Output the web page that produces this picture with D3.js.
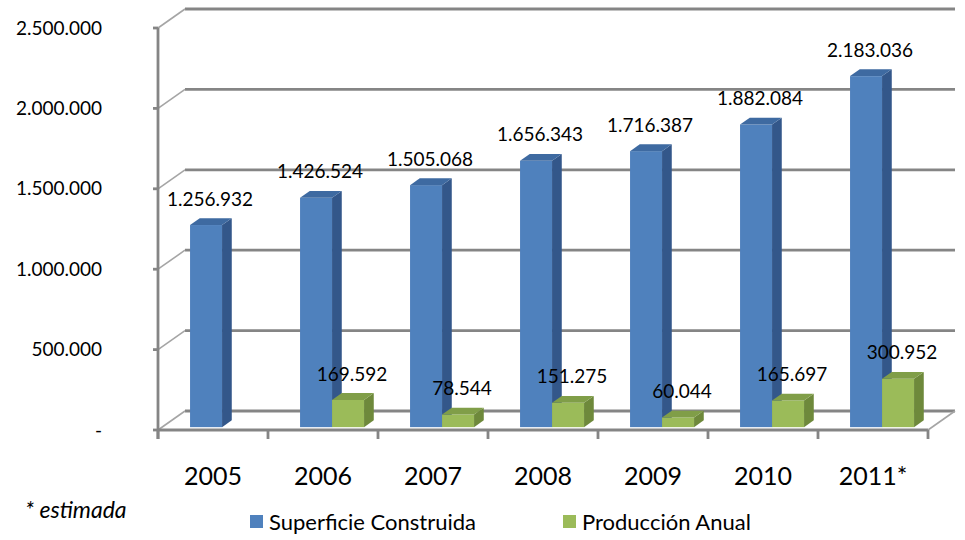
<!DOCTYPE html>
<html>
<head>
<meta charset="utf-8">
<script src="https://cdn.jsdelivr.net/npm/d3@7"></script>
<style>
  body { margin: 0; background: #fff; }
  svg { display: block; }
</style>
</head>
<body>
<div id="chart"></div>
<script>
const years = ['2005', '2006', '2007', '2008', '2009', '2010', '2011*'];
const superficie = [1256932, 1426524, 1505068, 1656343, 1716387, 1882084, 2183036];
const produccion = [null, 169592, 78544, 151275, 60044, 165697, 300952];
const seriesNames = ['Superficie Construida', 'Producción Anual'];
const yTicks = [0, 500000, 1000000, 1500000, 2000000, 2500000];

const width = 965;
const height = 540;
const font = 'Lato, "DejaVu Sans", sans-serif';

// front plane of the 3d box
const left = 158, right = 928, floorY = 430, topY = 28;
// depth vector of the floor
const depthX = 27, depthY = -19;
// bars sit at this depth slice
const barDepth0 = 0.15, barDepth = 0.36;

const colors = [
    { front: '#4F81BD', side: '#33578A', top: '#3E6AA1' },
    { front: '#9BBB59', side: '#6E893B', top: '#809E48' }
];

const fmt = v => v === 0 ? '-' : d3.format(',')(v).replace(/,/g, '.');

const svg = d3.select('#chart').append('svg')
    .attr('width', width)
    .attr('height', height);

const yScale = d3.scaleLinear()
    .domain([0, 2500000])
    .range([floorY, topY]);

const xScale = d3.scaleBand()
    .domain(years)
    .range([left, right]);

const inner = d3.scaleBand()
    .domain(seriesNames)
    .range([28, 92]);

const grid = svg.append('g');
const gridColor = '#858585';

// back wall grid lines + oblique side wall lines
yTicks.forEach(t => {
    const y = yScale(t);
    grid.append('line')
        .attr('x1', left + depthX).attr('x2', right + depthX)
        .attr('y1', y + depthY).attr('y2', y + depthY)
        .attr('stroke', gridColor).attr('stroke-width', 2.8);
    grid.append('line')
        .attr('x1', left).attr('x2', left + depthX)
        .attr('y1', y).attr('y2', y + depthY)
        .attr('stroke', '#a5a5a5').attr('stroke-width', 1.6);
    // tick on the front axis
    grid.append('line')
        .attr('x1', left - 5).attr('x2', left)
        .attr('y1', y).attr('y2', y)
        .attr('stroke', gridColor).attr('stroke-width', 2.8);
});

// front vertical axis
grid.append('line')
    .attr('x1', left).attr('x2', left)
    .attr('y1', topY).attr('y2', floorY + 9)
    .attr('stroke', gridColor).attr('stroke-width', 2.8);

// floor front edge + right oblique
grid.append('line')
    .attr('x1', left).attr('x2', right)
    .attr('y1', floorY).attr('y2', floorY)
    .attr('stroke', gridColor).attr('stroke-width', 2.8);
grid.append('line')
    .attr('x1', right).attr('x2', right + depthX)
    .attr('y1', floorY).attr('y2', floorY + depthY)
    .attr('stroke', '#a5a5a5').attr('stroke-width', 1.6);

// category ticks
years.concat(['end']).forEach((yr, i) => {
    const x = left + i * xScale.bandwidth();
    grid.append('line')
        .attr('x1', x).attr('x2', x)
        .attr('y1', floorY).attr('y2', floorY + 9)
        .attr('stroke', gridColor).attr('stroke-width', 2.8);
});

// y labels
svg.append('g').selectAll('text')
    .data(yTicks)
    .join('text')
    .attr('x', 102)
    .attr('y', d => yScale(d))
    .attr('dy', '0.35em')
    .attr('text-anchor', 'end')
    .style('font', `19px ${font}`)
    .attr('fill', '#000')
    .text(fmt);

// x labels
svg.append('g').selectAll('text')
    .data(years)
    .join('text')
    .attr('x', d => xScale(d) + xScale.bandwidth() / 2)
    .attr('y', 476)
    .attr('dy', '0.35em')
    .attr('text-anchor', 'middle')
    .style('font', `25px ${font}`)
    .attr('fill', '#000')
    .text(d => d);

// bars
const bars = [];
[superficie, produccion].forEach((vals, s) => {
    vals.forEach((v, i) => {
        if (v == null) return;
        bars.push({ s: s, year: years[i], value: v });
    });
});

const base = floorY + barDepth0 * depthY;
const ddx = barDepth * depthX, ddy = barDepth * depthY;
const barW = inner.bandwidth();
const hScale = d3.scaleLinear().domain([0, 2500000]).range([0, floorY - topY]);

const barG = svg.append('g');
bars.forEach(b => {
    const x0 = xScale(b.year) + barDepth0 * depthX + inner(seriesNames[b.s]);
    const x1 = x0 + barW;
    const top = base - hScale(b.value);
    const c = colors[b.s];
    barG.append('rect')
        .attr('x', x0).attr('y', top)
        .attr('width', barW).attr('height', base - top)
        .attr('fill', c.front);
    barG.append('polygon')
        .attr('points', [[x1, base], [x1, top], [x1 + ddx, top + ddy], [x1 + ddx, base + ddy]].join(' '))
        .attr('fill', c.side);
    barG.append('polygon')
        .attr('points', [[x0, top], [x1, top], [x1 + ddx, top + ddy], [x0 + ddx, top + ddy]].join(' '))
        .attr('fill', c.top);
    barG.append('text')
        .attr('x', (x0 + x1) / 2 + 4)
        .attr('y', top - 26)
        .attr('dy', '0.35em')
        .attr('text-anchor', 'middle')
        .style('font', `19px ${font}`)
        .attr('fill', '#000')
        .text(fmt(b.value));
});

// note
svg.append('text')
    .attr('x', 25)
    .attr('y', 510)
    .attr('dy', '0.35em')
    .style('font', `italic 23px ${font}`)
    .attr('fill', '#000')
    .text('* estimada');

// legend
const legendX = [250, 563];
const legend = svg.append('g').selectAll('g')
    .data(seriesNames)
    .join('g')
    .attr('transform', (d, i) => `translate(${legendX[i]}, 522)`);
legend.append('rect')
    .attr('x', 0).attr('y', -7)
    .attr('width', 13).attr('height', 13)
    .attr('fill', (d, i) => colors[i].front);
legend.append('text')
    .attr('x', 19)
    .attr('y', 0)
    .attr('dy', '0.35em')
    .style('font', `22px ${font}`)
    .attr('fill', '#000')
    .text(d => d);
</script>
</body>
</html>
